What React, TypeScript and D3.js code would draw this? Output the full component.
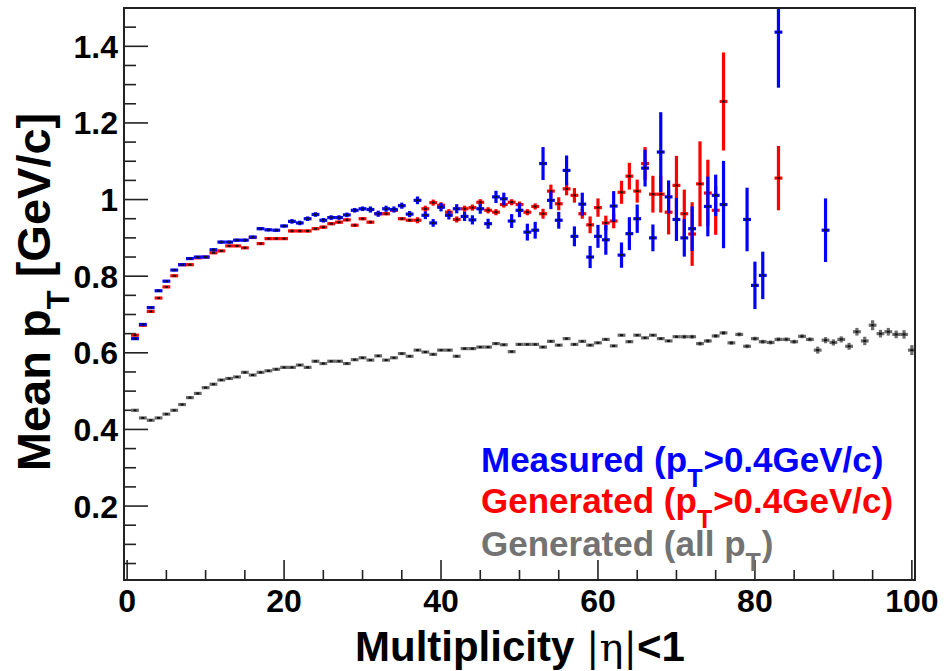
import React from "react";
import * as d3 from "d3";

// Multiplicity bins 1..100 (index i -> multiplicity i+1)
const measured: (number | null)[] = [
  0.637, 0.674, 0.718, 0.762, 0.787, 0.816, 0.830, 0.846, 0.850, 0.850,
  0.869, 0.889, 0.889, 0.894, 0.894, 0.902, 0.924, 0.921, 0.920, 0.931,
  0.943, 0.939, 0.950, 0.961, 0.946, 0.953, 0.953, 0.960, 0.972, 0.976,
  0.974, 0.963, 0.976, 0.974, 0.984, 0.962, 0.998, 0.959, 0.939, 0.980,
  0.959, 0.976, 0.956, 0.947, 0.976, 0.937, 1.007, 1.002, 0.944, 0.972,
  0.915, 0.920, 1.094, 0.998, 0.946, 1.076, 0.904, 0.988, 0.850, 0.904,
  0.895, 0.983, 0.855, 0.911, 0.950, 1.082, 0.900, 1.124, 1.007, 0.948,
  0.900, 0.924, null, 0.982, 1.011, 0.987, null, null, 0.948, 0.776,
  0.802, null, 1.437, null, null, null, null, null, 0.920,
];
const measuredErr: number[] = [
  0.003, 0.003, 0.003, 0.003, 0.003, 0.003, 0.003, 0.003, 0.003, 0.003,
  0.004, 0.004, 0.004, 0.004, 0.004, 0.004, 0.004, 0.004, 0.004, 0.004,
  0.006, 0.006, 0.006, 0.006, 0.006, 0.006, 0.006, 0.006, 0.006, 0.006,
  0.008, 0.008, 0.008, 0.008, 0.008, 0.008, 0.010, 0.010, 0.010, 0.011,
  0.011, 0.012, 0.012, 0.012, 0.013, 0.013, 0.016, 0.016, 0.018, 0.018,
  0.022, 0.022, 0.043, 0.023, 0.022, 0.039, 0.026, 0.030, 0.029, 0.030,
  0.039, 0.039, 0.033, 0.043, 0.037, 0.048, 0.035, 0.104, 0.043, 0.056,
  0.049, 0.058, 0, 0.078, 0.054, 0.114, 0, 0, 0.083, 0.062,
  0.062, 0, 0.145, 0, 0, 0, 0, 0, 0.083,
];

const generatedCut: (number | null)[] = [
  0.646, 0.672, 0.708, 0.743, 0.772, 0.801, 0.830, 0.830, 0.848, 0.850,
  0.861, 0.866, 0.879, 0.879, 0.874, 0.901, 0.885, 0.898, 0.898, 0.898,
  0.918, 0.918, 0.918, 0.924, 0.928, 0.937, 0.941, 0.947, 0.933, 0.950,
  0.941, 0.963, 0.963, 0.972, 0.950, 0.946, 0.946, 0.976, 0.992, 0.985,
  0.967, 0.948, 0.976, 0.979, 0.993, 0.972, 0.967, 0.987, 0.993, 0.987,
  0.967, 0.982, 0.963, 1.022, 0.989, 1.028, 1.011, 0.963, 0.934, 0.979,
  0.939, 0.944, 1.019, 1.061, 1.022, 1.094, 1.014, 1.014, 0.967, 1.037,
  0.963, 0.910, 1.041, 1.017, 0.972, 1.256, null, null, null, null,
  null, null, 1.056,
];
const generatedCutErr: number[] = [
  0.002, 0.002, 0.002, 0.002, 0.002, 0.002, 0.002, 0.002, 0.002, 0.002,
  0.002, 0.002, 0.002, 0.002, 0.002, 0.002, 0.002, 0.002, 0.002, 0.002,
  0.004, 0.004, 0.004, 0.004, 0.004, 0.004, 0.004, 0.004, 0.004, 0.004,
  0.004, 0.004, 0.004, 0.004, 0.004, 0.004, 0.008, 0.008, 0.008, 0.008,
  0.008, 0.008, 0.008, 0.008, 0.008, 0.008, 0.008, 0.008, 0.008, 0.008,
  0.008, 0.008, 0.013, 0.017, 0.017, 0.017, 0.019, 0.013, 0.022, 0.024,
  0.019, 0.019, 0.030, 0.035, 0.030, 0.043, 0.048, 0.048, 0.058, 0.077,
  0.063, 0.083, 0.111, 0.087, 0.064, 0.128, 0, 0, 0, 0,
  0, 0, 0.084,
];

const generatedAll: number[] = [
  0.450, 0.430, 0.424, 0.430, 0.440, 0.450, 0.465, 0.483, 0.494, 0.509,
  0.518, 0.529, 0.533, 0.537, 0.549, 0.542, 0.549, 0.553, 0.557, 0.562,
  0.562, 0.568, 0.562, 0.578, 0.572, 0.578, 0.578, 0.572, 0.582, 0.587,
  0.581, 0.592, 0.581, 0.587, 0.598, 0.591, 0.607, 0.602, 0.596, 0.607,
  0.607, 0.591, 0.611, 0.611, 0.615, 0.615, 0.624, 0.621, 0.603, 0.622,
  0.622, 0.622, 0.615, 0.630, 0.620, 0.637, 0.622, 0.630, 0.620, 0.626,
  0.635, 0.618, 0.646, 0.629, 0.646, 0.639, 0.646, 0.637, 0.631, 0.642,
  0.642, 0.642, 0.624, 0.631, 0.644, 0.652, 0.626, 0.648, 0.617, 0.637,
  0.629, 0.627, 0.635, 0.635, 0.629, 0.643, 0.635, 0.607, 0.633, 0.627,
  0.635, 0.617, 0.655, 0.631, 0.672, 0.650, 0.655, 0.648, 0.648, 0.607,
];
const generatedAllErr: number[] = [
  0.002, 0.002, 0.002, 0.002, 0.002, 0.002, 0.002, 0.002, 0.002, 0.002,
  0.002, 0.002, 0.002, 0.002, 0.002, 0.002, 0.002, 0.002, 0.002, 0.002,
  0.002, 0.002, 0.002, 0.002, 0.002, 0.002, 0.002, 0.002, 0.002, 0.002,
  0.002, 0.002, 0.002, 0.002, 0.002, 0.002, 0.002, 0.002, 0.002, 0.002,
  0.003, 0.003, 0.003, 0.003, 0.003, 0.003, 0.003, 0.003, 0.003, 0.003,
  0.003, 0.003, 0.003, 0.003, 0.003, 0.003, 0.003, 0.003, 0.003, 0.003,
  0.003, 0.003, 0.003, 0.003, 0.003, 0.003, 0.003, 0.003, 0.003, 0.003,
  0.005, 0.005, 0.005, 0.005, 0.005, 0.005, 0.005, 0.005, 0.005, 0.005,
  0.005, 0.005, 0.005, 0.005, 0.005, 0.005, 0.005, 0.009, 0.008, 0.008,
  0.008, 0.009, 0.010, 0.011, 0.013, 0.010, 0.010, 0.010, 0.011, 0.013,
];

const xMajorTicks = [0, 20, 40, 60, 80, 100];
const yMajorTicks = [0.2, 0.4, 0.6, 0.8, 1, 1.2, 1.4];

const W = 944;
const H = 671;
const L = 124, R = 915, T = 8, B = 580;
const FONT = "'Liberation Sans', Arial, Helvetica, sans-serif";

const x = d3.scaleLinear().domain([-0.4, 100.4]).range([L, R]);
const y = d3.scaleLinear().domain([0.007, 1.5]).range([B, T]);

type Series = { vals: (number | null)[]; errs: number[]; color: string; key: string };

const series: Series[] = [
  { key: "all", vals: generatedAll, errs: generatedAllErr, color: "#6a6a6a" },
  { key: "gen", vals: generatedCut, errs: generatedCutErr, color: "#ff0000" },
  { key: "meas", vals: measured, errs: measuredErr, color: "#0000ff" },
];

function Points({ s }: { s: Series }) {
  return (
    <g>
      {s.vals.map((v, i) => {
        if (v === null || v === undefined) return null;
        const m = i + 1;
        const e = s.errs[i] || 0;
        const cx = x(m);
        const cy = y(v);
        const x0 = Math.max(L, x(m - 0.5));
        const x1 = Math.min(R, x(m + 0.5));
        const yTop = Math.max(T, y(v + e));
        const yBot = Math.min(B, y(v - e));
        return (
          <g key={s.key + m}>
            <line x1={x0} x2={x1} y1={cy} y2={cy} stroke={s.color} strokeWidth={3.2} />
            {e > 0 && (
              <line x1={cx} x2={cx} y1={yTop} y2={yBot} stroke={s.color} strokeWidth={3.2} />
            )}
            <rect x={cx - 1.5} y={cy - 1} width={3} height={2} fill="#111" />
          </g>
        );
      })}
    </g>
  );
}

export default function App() {
  const xMinor = d3.range(0, 101, 5);
  const yMinor = d3.range(1, 30).map((k) => k * 0.05);
  const legend = [
    { pre: "Measured (p", post: ">0.4GeV/c)", color: "#0000ff", yb: 472 },
    { pre: "Generated (p", post: ">0.4GeV/c)", color: "#ff0000", yb: 513 },
    { pre: "Generated (all p", post: ")", color: "#737373", yb: 556 },
  ];
  return (
    <svg
      width={W}
      height={H}
      style={{ position: "absolute", left: 0, top: 0, background: "#fff" }}
      fontFamily={FONT}
    >
      <rect x={0} y={0} width={W} height={H} fill="#fff" />
      <defs>
        <clipPath id="plotclip">
          <rect x={L} y={T} width={R - L} height={B - T} />
        </clipPath>
      </defs>
      {/* ticks */}
      <g stroke="#222" strokeWidth={1.6}>
        {yMinor.map((v) => {
          const major = yMajorTicks.some((t) => Math.abs(t - v) < 1e-6);
          return <line key={"ym" + v} x1={L} x2={L + (major ? 24 : 12)} y1={y(v)} y2={y(v)} />;
        })}
        {xMinor.map((v) => {
          const major = xMajorTicks.includes(v);
          return <line key={"xm" + v} x1={x(v)} x2={x(v)} y1={B} y2={B - (major ? 20 : 10)} />;
        })}
      </g>
      {/* data */}
      <g clipPath="url(#plotclip)">
        {series.map((s) => (
          <Points key={s.key} s={s} />
        ))}
      </g>
      {/* frame */}
      <rect x={L} y={T} width={R - L} height={B - T} fill="none" stroke="#222" strokeWidth={2} />
      {/* tick labels */}
      <g fontSize={32} fontWeight="bold" fill="#000">
        {yMajorTicks.map((v) => (
          <text key={"yl" + v} x={118} y={y(v) + 11.5} textAnchor="end">
            {d3.format("~g")(v)}
          </text>
        ))}
        {xMajorTicks.map((v) => (
          <text key={"xl" + v} x={x(v)} y={612} textAnchor="middle">
            {v}
          </text>
        ))}
      </g>
      {/* axis titles */}
      <text x={355} y={661} fontSize={42} fontWeight="bold" fill="#000">
        Multiplicity{" "}
        <tspan fontFamily="'DejaVu Serif', 'Liberation Serif', serif" fontWeight="normal" fontSize={40}>
          |η|
        </tspan>
        &lt;1
      </text>
      <g transform="translate(50,292) rotate(-90)">
        <text x={0} y={0} textAnchor="middle" fontSize={47} fontWeight="bold" fill="#000">
          Mean p
          <tspan fontSize={31} dy={19}>
            T
          </tspan>
          <tspan dy={-19}> [GeV/c]</tspan>
        </text>
      </g>
      {/* legend */}
      <g fontSize={35} fontWeight="bold">
        {legend.map((l) => (
          <text key={l.pre} x={481} y={l.yb} fill={l.color}>
            {l.pre}
            <tspan fontSize={25} dy={15}>
              T
            </tspan>
            <tspan dy={-15} dx={1}>{l.post}</tspan>
          </text>
        ))}
      </g>
    </svg>
  );
}
